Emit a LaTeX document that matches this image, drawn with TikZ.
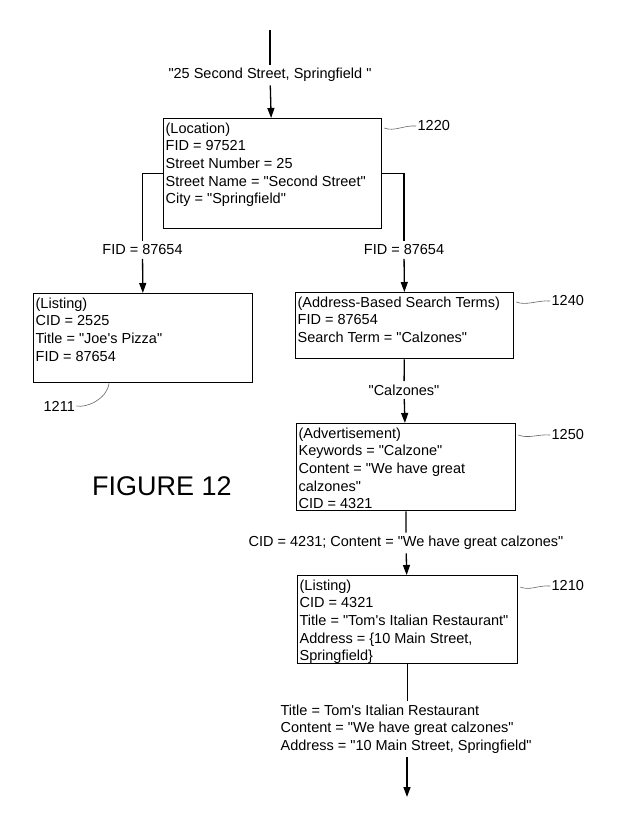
\documentclass[tikz,border=0pt]{standalone}
\usepackage{fontspec}
\setmainfont{Liberation Sans}[Ligatures=TeXOff]
\usetikzlibrary{arrows.meta}

\begin{document}
\begin{tikzpicture}[x=1pt, y=-1pt, line width=1.3pt, font=\fontsize{14.5}{17.7}\selectfont, box/.style={draw, anchor=north west, inner sep=0pt}, txt/.style={anchor=north west, align=left, inner xsep=2pt, inner ysep=4pt}, lbl/.style={inner sep=3pt}, ref/.style={inner sep=1pt}, lead/.style={draw=black!60, line width=0.6pt}, flow/.style={-{Triangle[length=10pt,width=7pt]}}]
  \useasboundingbox (0,0) rectangle (631,816);
  \coordinate (start) at (270,30);
  \node[lbl] (addr) at (270,75) {"25 Second Street, Springfield~"};
  % location record
  \node[box, minimum width=218pt, minimum height=110pt] (loc) at (163,118) {};
  \node[txt] (loctxt) at (loc.north west) {(Location)\\FID = 97521\\Street Number = 25\\Street Name = "Second Street"\\City = "Springfield"};
  \node[lbl] (fidl) at (142.5,250) {FID = 87654};
  \node[lbl] (fidr) at (404,250) {FID = 87654};
  % listing found by FID
  \node[box, minimum width=219pt, minimum height=89pt] (lst) at (33,293) {};
  \node[txt] (lsttxt) at (lst.north west) {(Listing)\\CID = 2525\\Title = "Joe's Pizza"\\FID = 87654};
  % search terms
  \node[box, minimum width=218pt, minimum height=66pt] (ast) at (295,292) {};
  \node[txt] (asttxt) at (ast.north west) {(Address-Based Search Terms)\\FID = 87654\\Search Term = "Calzones"};
  \node[lbl] (calz) at (404,390) {"Calzones"};
  % advertisement
  \node[box, minimum width=219pt, minimum height=87pt] (adv) at (296,423) {};
  \node[txt] (advtxt) at (adv.north west) {(Advertisement)\\Keywords = "Calzone"\\Content = "We have great\\calzones"\\CID = 4321};
  \node[lbl] (cid) at (406,543) {CID = 4231; Content = "We have great calzones"};
  % listing of the advertiser
  \node[box, minimum width=220pt, minimum height=88pt] (lstb) at (297,575) {};
  \node[txt] (lstbtxt) at (lstb.north west) {(Listing)\\CID = 4321\\Title = "Tom's Italian Restaurant"\\Address = \{10 Main Street,\\Springfield\}};
  \node[lbl, anchor=west, align=left] (res) at (277,729) {Title = Tom's Italian Restaurant\\Content = "We have great calzones"\\Address = "10 Main Street, Springfield"};
  \coordinate (stop) at (407,797);
  \node[font=\fontsize{27}{30}\selectfont] (fig) at (162,486) {FIGURE 12};
  % reference numerals
  \node[ref, anchor=west] (r1220) at (416,126) {1220};
  \node[ref, anchor=west] (r1211) at (42,406) {1211};
  \node[ref, anchor=west] (r1240) at (550,301) {1240};
  \node[ref, anchor=west] (r1250) at (550,435) {1250};
  \node[ref, anchor=west] (r1210) at (550,586) {1210};

  \draw (start) -- (addr);
  \draw[flow] (addr) -- (loc);
  \draw (loc.west) -| (fidl.north);
  \draw[flow] (fidl) -- (lst);
  \draw (loc.east) -| (fidr.north);
  \draw[flow] (fidr) -- (ast);
  \draw (ast) -- (calz);
  \draw[flow] (calz) -- (adv);
  \draw (adv) -- (cid);
  \draw[flow] (cid) -- (lstb);
  \draw (lstb) -- (res.north -| lstb.south);
  \draw[flow] (res.south -| stop) -- (stop);

  \draw[lead] ([shift={(2,10)}]loc.north east) .. controls +(10,4) and +(-12,-1) .. (r1220.west);
  \draw[lead] ([xshift=76pt]lst.south west) .. controls +(-2,16) and +(10,2) .. (r1211.east);
  \draw[lead] ([shift={(2,10)}]ast.north east) .. controls +(10,4) and +(-12,-1) .. (r1240.west);
  \draw[lead] ([shift={(2,12)}]adv.north east) .. controls +(10,4) and +(-12,-1) .. (r1250.west);
  \draw[lead] ([shift={(2,12)}]lstb.north east) .. controls +(10,4) and +(-12,-1) .. (r1210.west);
\end{tikzpicture}
\end{document}
